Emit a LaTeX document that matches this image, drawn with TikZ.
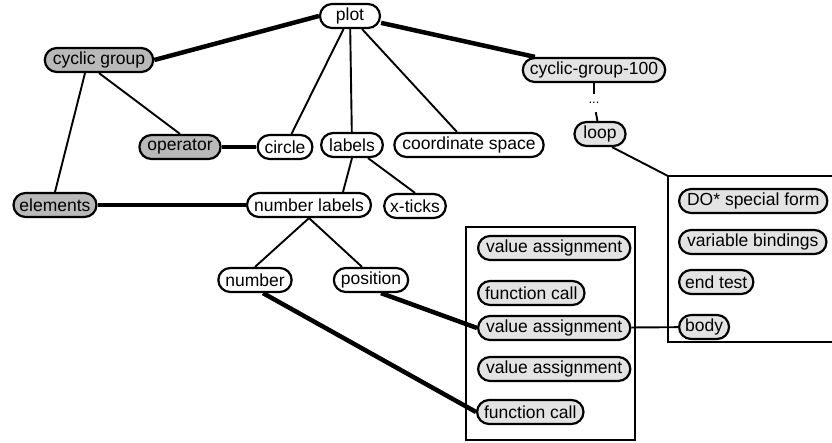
\documentclass[tikz,border=0pt]{standalone}
\usepackage{fontspec}
\setmainfont{Liberation Sans}
\usetikzlibrary{positioning}

\begin{document}
\begin{tikzpicture}[x=1pt,y=-1pt,
    pill/.style={draw,line width=2.2pt,rounded corners=12pt,minimum height=24pt,
                 inner xsep=8pt,inner ysep=0pt,font=\fontsize{17.5}{19}\selectfont},
    darkpill/.style={pill,fill=gray!55},
    lightpill/.style={pill,fill=gray!22},
    heavy/.style={line width=4.5pt},
    light/.style={line width=1.9pt}]
    \useasboundingbox (0,0) rectangle (832,443);
    % top level
    \node[pill,minimum width=60pt] (plot)       at (350,16)  {plot};
    \node[darkpill]                (cycgrp)     at (99,60)   {cyclic group};
    \node[lightpill,inner xsep=7pt] (cg100)     at (594,70)  {cyclic-group-100};
    \node[inner sep=0pt,minimum height=18pt,font=\fontsize{13}{13}\selectfont]
                                   (dots)       at (594,103) {...};
    \node[lightpill,inner xsep=9pt] (loop)      at (600,134) {loop};
    % second level
    \node[darkpill]                (operator)   at (180,147) {operator};
    \node[pill,inner xsep=7pt]     (circle)     at (285,147) {circle};
    \node[pill]                    (labels)     at (352,145) {labels};
    \node[pill]                    (coordspace) at (469,145) {coordinate space};
    \node[darkpill,inner xsep=6pt] (elements)   at (55,205)  {elements};
    \node[pill,inner xsep=7pt]     (numlabels)  at (309,205) {number labels};
    \node[pill,inner xsep=6pt]     (xticks)     at (415,206) {x-ticks};
    \node[pill,inner xsep=7pt]     (number)     at (255,280) {number};
    \node[pill,inner xsep=7pt]     (position)   at (371,280) {position};
    % the two boxes
    \node[lightpill,anchor=west]   (va1)        at (477,248) {value assignment};
    \node[lightpill,anchor=west,inner xsep=7pt] (fc1) at (477,293) {function call};
    \node[lightpill,anchor=west]   (va2)        at (477,328) {value assignment};
    \node[lightpill,anchor=west]   (va3)        at (477,369) {value assignment};
    \node[lightpill,anchor=west,inner xsep=7pt] (fc2) at (476,412) {function call};
    \node[lightpill,anchor=west]   (dostar)     at (678,201) {DO* special form};
    \node[lightpill,anchor=west]   (vbind)      at (678,242) {variable bindings};
    \node[lightpill,anchor=west,inner xsep=6pt] (endtest) at (678,282) {end test};
    \node[lightpill,anchor=west,inner xsep=6pt] (body)    at (678,327) {body};
    \coordinate (docorner) at (668,176);
    \draw[light] (466,227) rectangle (635,440);
    \draw[light] (850,176) -- (docorner) -- (668,342) -- (850,342);
    % connectors
    \draw[heavy] (plot.west) -- (cycgrp.east);
    \draw[heavy] (plot) -- (cg100);
    \draw[light] (plot) -- (circle);
    \draw[light] (plot) -- (labels);
    \draw[light] (plot) -- (coordspace);
    \draw[light] (cycgrp.south) -- (operator.north);
    \draw[light] ([xshift=-14pt]cycgrp.south) -- (elements.north);
    \draw[heavy] (operator) -- (circle);
    \draw[heavy] (elements) -- (numlabels);
    \draw[light] (labels.south) -- ([xshift=34pt]numlabels.north);
    \draw[light] ([xshift=16pt]labels.south) -- (xticks.north);
    \draw[light] (numlabels.south) -- (number.north);
    \draw[light] (numlabels.south) -- ([xshift=-9pt]position.north);
    \draw[heavy] ([xshift=8pt]number.south) -- (fc2.west);
    \draw[heavy] ([xshift=10pt]position.south) -- (va2.west);
    \draw[light] (cg100) -- (dots) -- (loop);
    \draw[light] ([xshift=12pt]loop.south) -- (docorner);
    \draw[light] (va2) -- (body);
\end{tikzpicture}
\end{document}
